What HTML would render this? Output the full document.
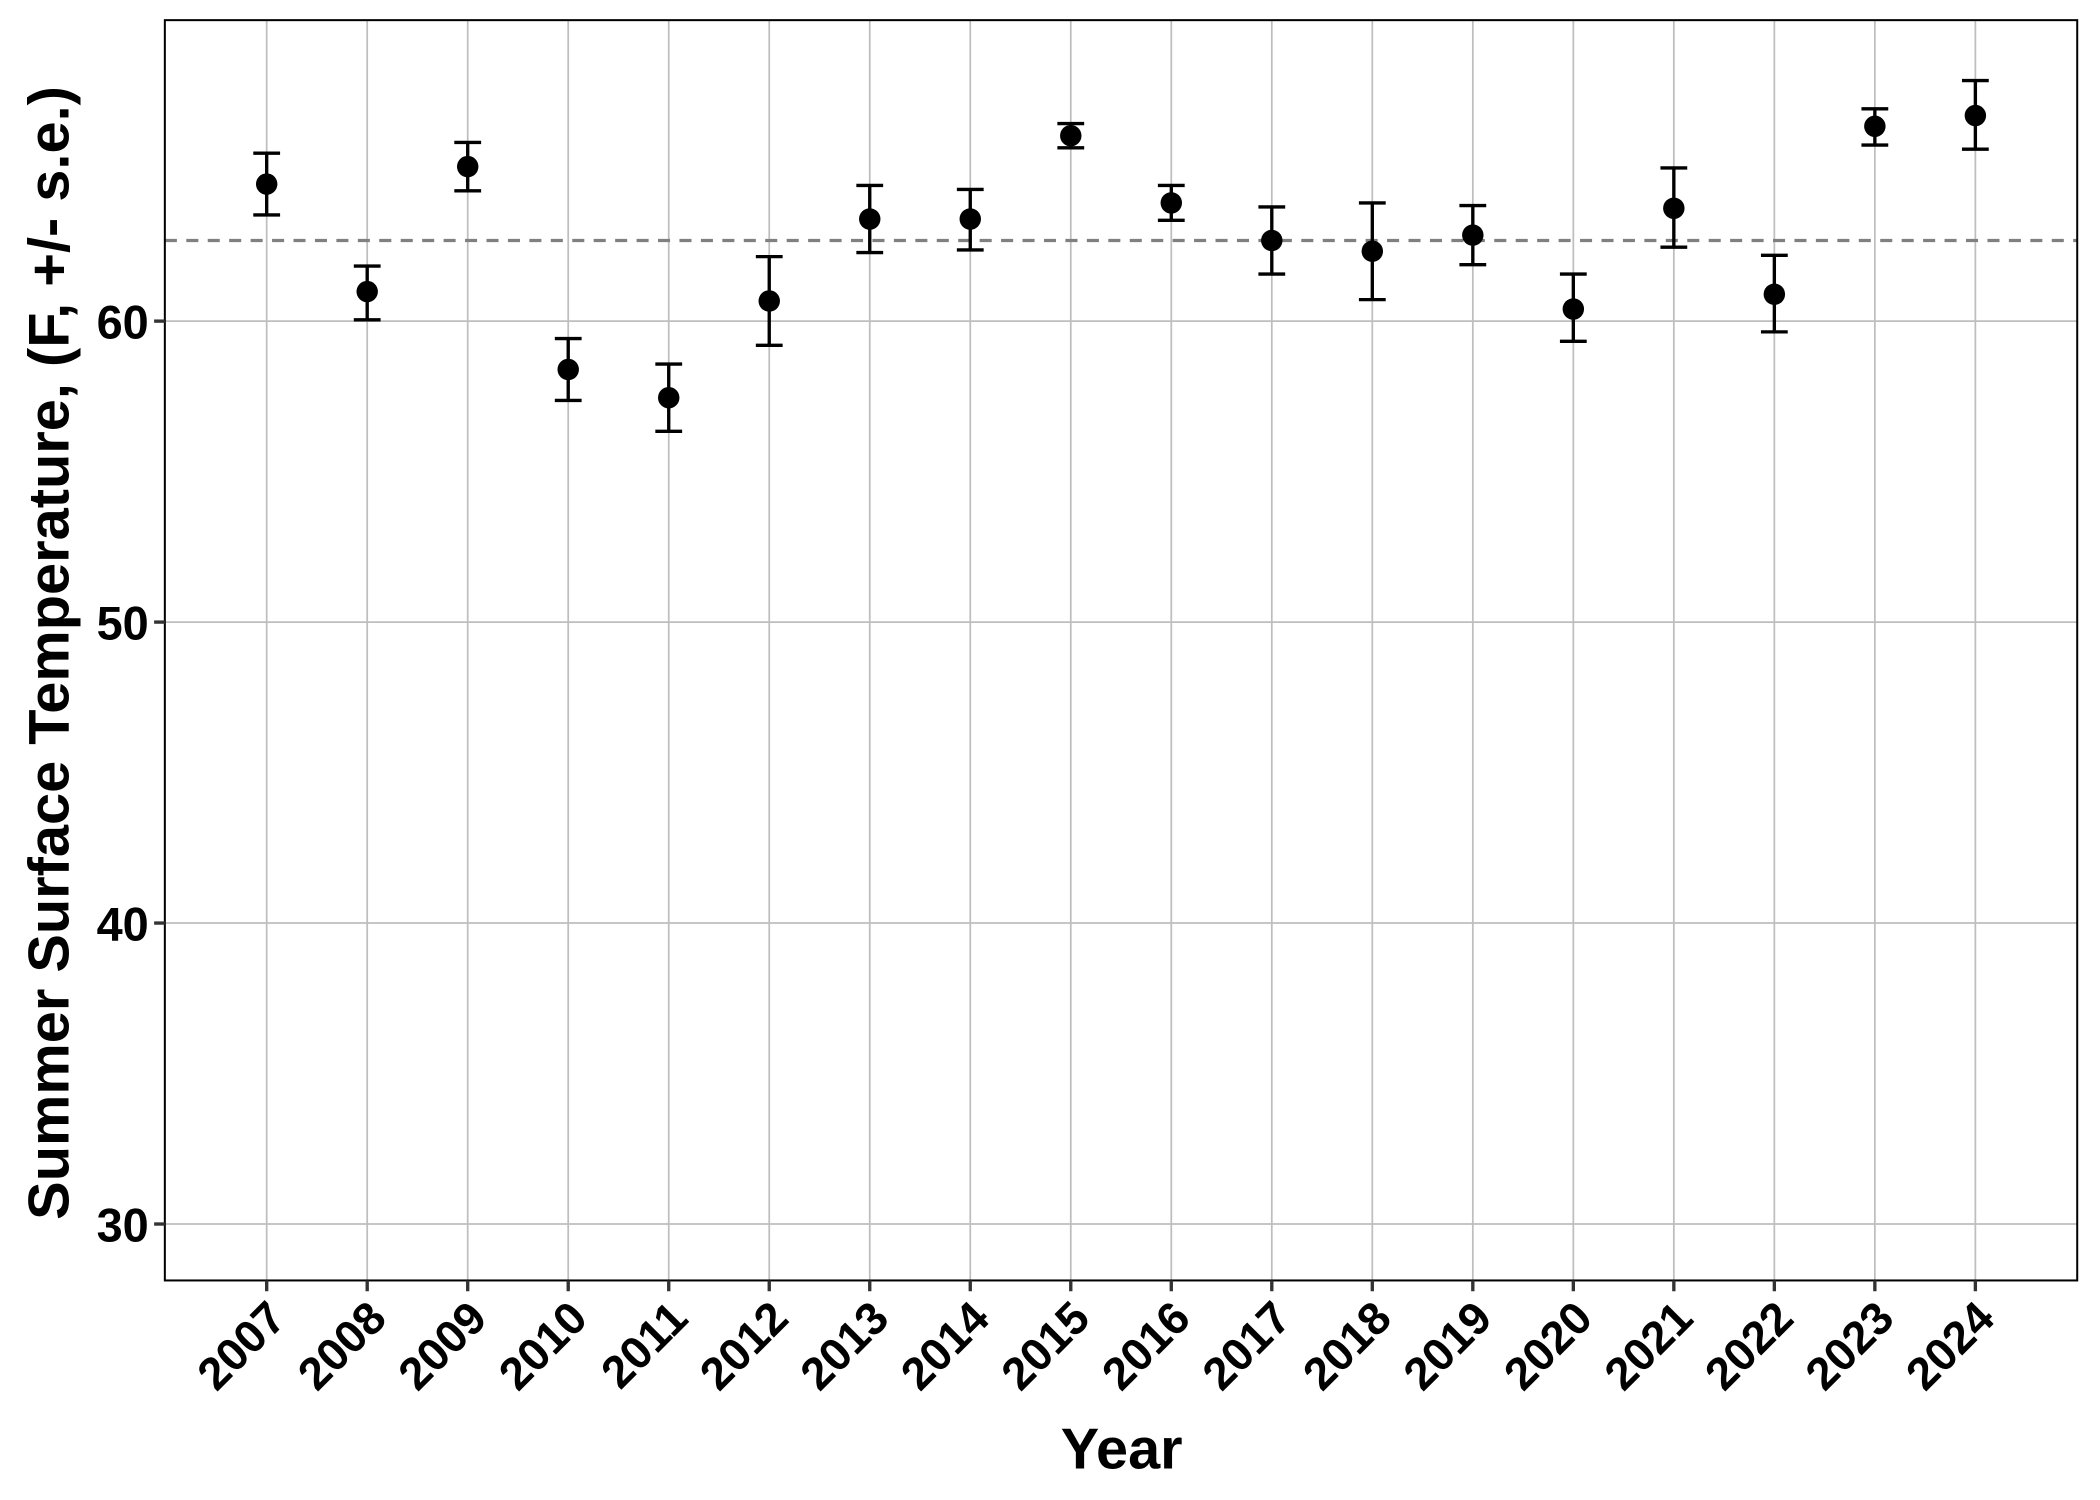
<!DOCTYPE html>
<html><head><meta charset="utf-8"><style>html,body{margin:0;padding:0;background:#fff}svg{display:block}</style></head><body>
<svg width="2100" height="1500" viewBox="0 0 1567 1116.4" preserveAspectRatio="none" xmlns="http://www.w3.org/2000/svg" font-family="Liberation Sans, sans-serif" font-weight="bold">
<rect width="1568" height="1117" fill="#fff"/>
<g stroke="#bebebe" stroke-width="1.3">
<line x1="123" x2="1550" y1="239" y2="239"/><line x1="123" x2="1550" y1="463" y2="463"/><line x1="123" x2="1550" y1="687" y2="687"/><line x1="123" x2="1550" y1="911" y2="911"/>
<line x1="199" x2="199" y1="15" y2="953"/><line x1="274" x2="274" y1="15" y2="953"/><line x1="349" x2="349" y1="15" y2="953"/><line x1="424" x2="424" y1="15" y2="953"/><line x1="499" x2="499" y1="15" y2="953"/><line x1="574" x2="574" y1="15" y2="953"/><line x1="649" x2="649" y1="15" y2="953"/><line x1="724" x2="724" y1="15" y2="953"/><line x1="799" x2="799" y1="15" y2="953"/><line x1="874" x2="874" y1="15" y2="953"/><line x1="949" x2="949" y1="15" y2="953"/><line x1="1024" x2="1024" y1="15" y2="953"/><line x1="1099" x2="1099" y1="15" y2="953"/><line x1="1174" x2="1174" y1="15" y2="953"/><line x1="1249" x2="1249" y1="15" y2="953"/><line x1="1324" x2="1324" y1="15" y2="953"/><line x1="1399" x2="1399" y1="15" y2="953"/><line x1="1474" x2="1474" y1="15" y2="953"/>
</g>
<line x1="123" x2="1550" y1="179" y2="179" stroke="#808080" stroke-width="2.5" stroke-dasharray="9,7"/>
<g stroke="#000" stroke-width="2.5" fill="none">
<path d="M199 114V160M189 114H209M189 160H209"/>
<path d="M274 198V238M264 198H284M264 238H284"/>
<path d="M349 106V142M339 106H359M339 142H359"/>
<path d="M424 252V298M414 252H434M414 298H434"/>
<path d="M499 271V321M489 271H509M489 321H509"/>
<path d="M574 191V257M564 191H584M564 257H584"/>
<path d="M649 138V188M639 138H659M639 188H659"/>
<path d="M724 141V186M714 141H734M714 186H734"/>
<path d="M799 92V110M789 92H809M789 110H809"/>
<path d="M874 138V164M864 138H884M864 164H884"/>
<path d="M949 154V204M939 154H959M939 204H959"/>
<path d="M1024 151V223M1014 151H1034M1014 223H1034"/>
<path d="M1099 153V197M1089 153H1109M1089 197H1109"/>
<path d="M1174 204V254M1164 204H1184M1164 254H1184"/>
<path d="M1249 125V184M1239 125H1259M1239 184H1259"/>
<path d="M1324 190V247M1314 190H1334M1314 247H1334"/>
<path d="M1399 81V108M1389 81H1409M1389 108H1409"/>
<path d="M1474 60V111M1464 60H1484M1464 111H1484"/>
</g>
<g fill="#000">
<circle cx="199" cy="137" r="8"/><circle cx="274" cy="217" r="8"/><circle cx="349" cy="124" r="8"/><circle cx="424" cy="275" r="8"/><circle cx="499" cy="296" r="8"/><circle cx="574" cy="224" r="8"/><circle cx="649" cy="163" r="8"/><circle cx="724" cy="163" r="8"/><circle cx="799" cy="101" r="8"/><circle cx="874" cy="151" r="8"/><circle cx="949" cy="179" r="8"/><circle cx="1024" cy="187" r="8"/><circle cx="1099" cy="175" r="8"/><circle cx="1174" cy="230" r="8"/><circle cx="1249" cy="155" r="8"/><circle cx="1324" cy="219" r="8"/><circle cx="1399" cy="94" r="8"/><circle cx="1474" cy="86" r="8"/>
</g>
<rect x="123" y="15" width="1427" height="938" fill="none" stroke="#000" stroke-width="1.5"/>
<g stroke="#333" stroke-width="2.5"><line x1="115" x2="123" y1="239" y2="239"/><line x1="115" x2="123" y1="463" y2="463"/><line x1="115" x2="123" y1="687" y2="687"/><line x1="115" x2="123" y1="911" y2="911"/>
<path d="M199 953v8M274 953v8M349 953v8M424 953v8M499 953v8M574 953v8M649 953v8M724 953v8M799 953v8M874 953v8M949 953v8M1024 953v8M1099 953v8M1174 953v8M1249 953v8M1324 953v8M1399 953v8M1474 953v8"/></g>
<g font-size="35" text-anchor="end"><text x="111" y="252">60</text><text x="111" y="476">50</text><text x="111" y="700">40</text><text x="111" y="924">30</text></g>
<g font-size="34" text-anchor="end">
<text transform="translate(215,983) rotate(-45)">2007</text>
<text transform="translate(290,983) rotate(-45)">2008</text>
<text transform="translate(365,983) rotate(-45)">2009</text>
<text transform="translate(440,983) rotate(-45)">2010</text>
<text transform="translate(515,983) rotate(-45)">2011</text>
<text transform="translate(590,983) rotate(-45)">2012</text>
<text transform="translate(665,983) rotate(-45)">2013</text>
<text transform="translate(740,983) rotate(-45)">2014</text>
<text transform="translate(815,983) rotate(-45)">2015</text>
<text transform="translate(890,983) rotate(-45)">2016</text>
<text transform="translate(965,983) rotate(-45)">2017</text>
<text transform="translate(1040,983) rotate(-45)">2018</text>
<text transform="translate(1115,983) rotate(-45)">2019</text>
<text transform="translate(1190,983) rotate(-45)">2020</text>
<text transform="translate(1265,983) rotate(-45)">2021</text>
<text transform="translate(1340,983) rotate(-45)">2022</text>
<text transform="translate(1415,983) rotate(-45)">2023</text>
<text transform="translate(1490,983) rotate(-45)">2024</text>
</g>
<text x="837" y="1093" font-size="43" text-anchor="middle">Year</text>
<text transform="translate(51,486) rotate(-90)" font-size="43" text-anchor="middle">Summer Surface Temperature, (F, +/- s.e.)</text>
</svg>
</body></html>
